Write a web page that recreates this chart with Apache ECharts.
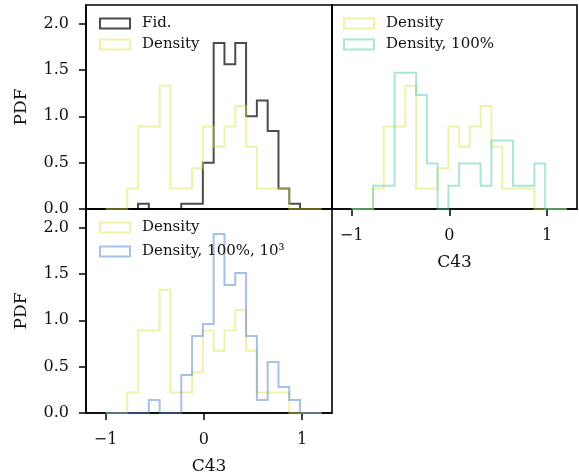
<!DOCTYPE html>
<html>
<head>
<meta charset="utf-8">
<script src="https://cdn.jsdelivr.net/npm/echarts@6/dist/echarts.min.js"></script>
<style>
  html, body { margin: 0; padding: 0; background: #fff; }
  #chart { width: 579px; height: 476px; }
</style>
</head>
<body>
<div id="chart"></div>
<script>
// Histogram bin edges for C43 (20 bins)
const binEdges = [-1.00, -0.89, -0.78, -0.67, -0.56, -0.45, -0.34, -0.23, -0.12, -0.01,
                  0.10, 0.21, 0.32, 0.43, 0.54, 0.65, 0.76, 0.87, 0.98, 1.09, 1.20];

// Normalised bin heights (PDF) per run
const fidPdf        = [0, 0, 0, 0.056, 0, 0, 0, 0.056, 0.056, 0.50, 1.79, 1.56, 1.79, 1.00, 1.17, 0.84, 0.22, 0.056, 0, 0];
const densityPdf    = [0, 0, 0.22, 0.89, 0.89, 1.33, 0.22, 0.22, 0.44, 0.89, 0.67, 0.89, 1.11, 0.67, 0.22, 0.22, 0.22, 0, 0, 0];
const density100Pdf = [0, 0, 0.25, 0.25, 1.47, 1.47, 1.23, 0.49, 0, 0.25, 0.49, 0.49, 0.25, 0.74, 0.74, 0.25, 0.25, 0.49, 0, 0];
const density1e3Pdf = [0, 0, 0, 0, 0.14, 0, 0, 0.41, 0.83, 0.96, 1.93, 1.38, 1.51, 0.83, 0.14, 0.55, 0.28, 0.14, 0, 0];

// Axis ticks
const xTicks = [-1, 0, 1];
const yTicks = [0, 0.5, 1.0, 1.5, 2.0];

const FONT = 'DejaVu Serif';
const COL = {
  fid: 'rgba(0,0,0,0.7)',
  density: 'rgba(222,224,64,0.45)',
  d100: 'rgba(64,200,170,0.45)',
  d1e3: 'rgba(80,130,210,0.5)'
};

// Outline of a step histogram: baseline -> bar tops -> baseline
function stepOutline(edges, heights) {
  const pts = [[edges[0], 0]];
  for (let i = 0; i < heights.length; i++) {
    pts.push([edges[i], heights[i]]);
    pts.push([edges[i + 1], heights[i]]);
  }
  pts.push([edges[edges.length - 1], 0]);
  return pts;
}

function histSeries(name, heights, color, idx) {
  return {
    type: 'line', name: name, xAxisIndex: idx, yAxisIndex: idx,
    data: stepOutline(binEdges, heights),
    showSymbol: false, symbol: 'none', animation: false,
    color: color,
    lineStyle: { color: color, width: 2, join: 'miter', cap: 'butt' }
  };
}

const minus = v => (v < 0 ? '\u2212' + Math.abs(v) : String(v));

function xAxis(idx, showLabels) {
  return {
    type: 'value', gridIndex: idx, min: -1.2, max: 1.305,
    splitLine: { show: false },
    axisLine: { show: true, onZero: false, lineStyle: { color: '#000', width: 1.6 } },
    axisTick: { show: showLabels, customValues: xTicks, length: 7, lineStyle: { color: '#000', width: 1.5 } },
    axisLabel: { show: showLabels, customValues: xTicks, formatter: minus, margin: 19,
                 fontFamily: FONT, fontSize: 16, color: '#111' },
    name: showLabels ? 'C43' : '', nameLocation: 'middle', nameGap: 45,
    nameTextStyle: { fontFamily: FONT, fontSize: 17, color: '#111' }
  };
}

function yAxis(idx, showLabels) {
  return {
    type: 'value', gridIndex: idx, min: 0, max: 2.2,
    splitLine: { show: false },
    axisLine: { show: true, onZero: false, lineStyle: { color: '#000', width: 1.6 } },
    axisTick: { show: showLabels, customValues: yTicks, length: 7, lineStyle: { color: '#000', width: 1.5 } },
    axisLabel: { show: showLabels, customValues: yTicks, formatter: v => v.toFixed(1), margin: 17,
                 fontFamily: FONT, fontSize: 16, color: '#111' },
    name: showLabels ? 'PDF' : '', nameLocation: 'middle', nameRotate: 90, nameGap: 56,
    nameTextStyle: { fontFamily: FONT, fontSize: 17, color: '#111' }
  };
}

function legendItem(name, color) {
  return { name: name, icon: 'rect', itemStyle: { color: 'rgba(0,0,0,0)', borderColor: color, borderWidth: 2 } };
}

function legend(left, top, items, gap) {
  return {
    left: left, top: top, orient: 'vertical', selectedMode: false,
    itemWidth: 30, itemHeight: 10, itemGap: gap, padding: 0,
    data: items,
    textStyle: { fontFamily: FONT, fontSize: 15, color: '#111', lineHeight: 15, padding: [0, 0, 0, 7] }
  };
}

const gridStyle = { show: true, borderColor: '#000', borderWidth: 1.6, backgroundColor: 'rgba(0,0,0,0)' };

const option = {
  animation: false,
  backgroundColor: '#fff',
  grid: [
    Object.assign({ left: 86, top: 5, width: 246, height: 204 }, gridStyle),
    Object.assign({ left: 332, top: 5, width: 245, height: 204 }, gridStyle),
    Object.assign({ left: 86, top: 209, width: 246, height: 204 }, gridStyle)
  ],
  xAxis: [xAxis(0, false), xAxis(1, true), xAxis(2, true)],
  yAxis: [yAxis(0, true), yAxis(1, false), yAxis(2, true)],
  legend: [
    legend(99, 16, [legendItem('Fid.', COL.fid), legendItem('Density', COL.density)], 6),
    legend(343, 16, [legendItem('Density', COL.density), legendItem('Density, 100%', COL.d100)], 6),
    legend(99, 220, [legendItem('Density', COL.density), legendItem('Density, 100%, 10³', COL.d1e3)], 9)
  ],
  series: [
    histSeries('Fid.', fidPdf, COL.fid, 0),
    histSeries('Density', densityPdf, COL.density, 0),
    histSeries('Density', densityPdf, COL.density, 1),
    histSeries('Density, 100%', density100Pdf, COL.d100, 1),
    histSeries('Density', densityPdf, COL.density, 2),
    histSeries('Density, 100%, 10³', density1e3Pdf, COL.d1e3, 2)
  ]
};

const chart = echarts.init(document.getElementById('chart'), null, { renderer: 'canvas' });
chart.setOption(option);
</script>
</body>
</html>
